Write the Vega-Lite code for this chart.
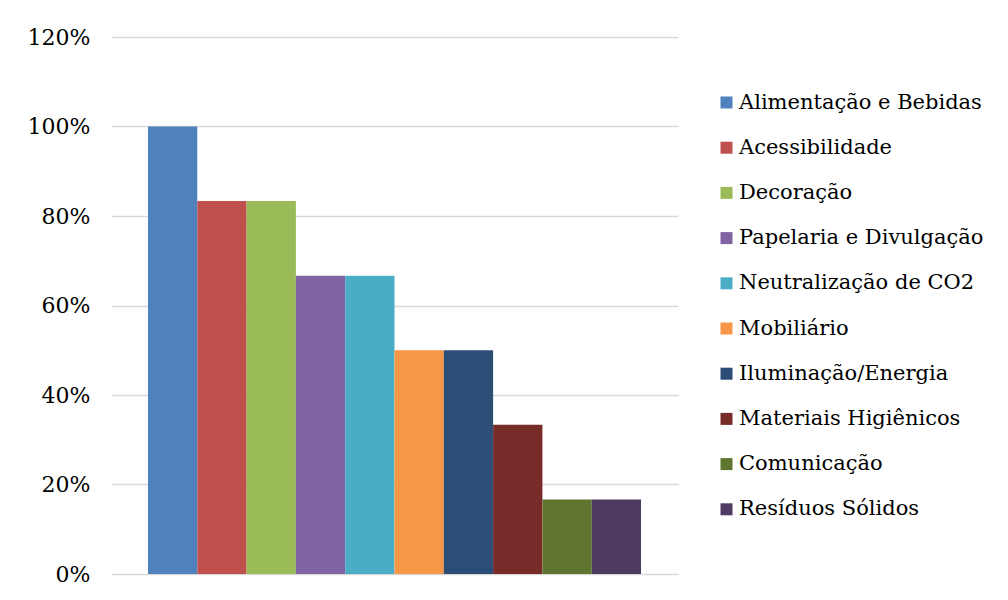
{
  "$schema": "https://vega.github.io/schema/vega-lite/v6.json",
  "width": 567,
  "height": 537,
  "autosize": {"type": "none"},
  "padding": {"left": 111, "top": 37, "right": 330, "bottom": 26},
  "background": "white",
  "config": {
    "view": {"stroke": null},
    "font": "DejaVu Serif",
    "axis": {"labelFont": "DejaVu Serif"},
    "legend": {"labelFont": "DejaVu Serif"}
  },
  "data": {
    "values": [
      {"cat": "Alimentação e Bebidas", "v": 1.0, "o": 1},
      {"cat": "Acessibilidade", "v": 0.8333, "o": 2},
      {"cat": "Decoração", "v": 0.8333, "o": 3},
      {"cat": "Papelaria e Divulgação", "v": 0.6667, "o": 4},
      {"cat": "Neutralização de CO2", "v": 0.6667, "o": 5},
      {"cat": "Mobiliário", "v": 0.5, "o": 6},
      {"cat": "Iluminação/Energia", "v": 0.5, "o": 7},
      {"cat": "Materiais Higiênicos", "v": 0.3333, "o": 8},
      {"cat": "Comunicação", "v": 0.1667, "o": 9},
      {"cat": "Resíduos Sólidos", "v": 0.1667, "o": 10}
    ]
  },
  "mark": {"type": "bar"},
  "encoding": {
    "x": {
      "field": "cat",
      "type": "nominal",
      "sort": {"field": "o"},
      "scale": {"paddingInner": 0, "paddingOuter": 0.75},
      "axis": null
    },
    "y": {
      "field": "v",
      "type": "quantitative",
      "scale": {"domain": [0, 1.2], "nice": false},
      "axis": {
        "values": [0, 0.2, 0.4, 0.6, 0.8, 1.0, 1.2],
        "format": ".0%",
        "title": null,
        "domain": false,
        "ticks": false,
        "labelFontSize": 22,
        "labelColor": "#000000",
        "labelPadding": 21,
        "gridColor": "#d9d9d9",
        "gridWidth": 1.5
      }
    },
    "color": {
      "field": "cat",
      "type": "nominal",
      "sort": {"field": "o"},
      "scale": {
        "range": ["#4F81BD", "#C0504D", "#9BBB59", "#8064A2", "#4BACC6", "#F79646", "#2C4D75", "#772C2A", "#5F7530", "#4D3B62"]
      },
      "legend": {
        "title": null,
        "orient": "none",
        "legendX": 605,
        "legendY": 55,
        "symbolType": "square",
        "symbolSize": 144,
        "symbolStrokeWidth": 0,
        "labelFontSize": 21,
        "labelColor": "#000000",
        "labelOffset": 2,
        "rowPadding": 23.2,
        "labelLimit": 400
      }
    }
  }
}
